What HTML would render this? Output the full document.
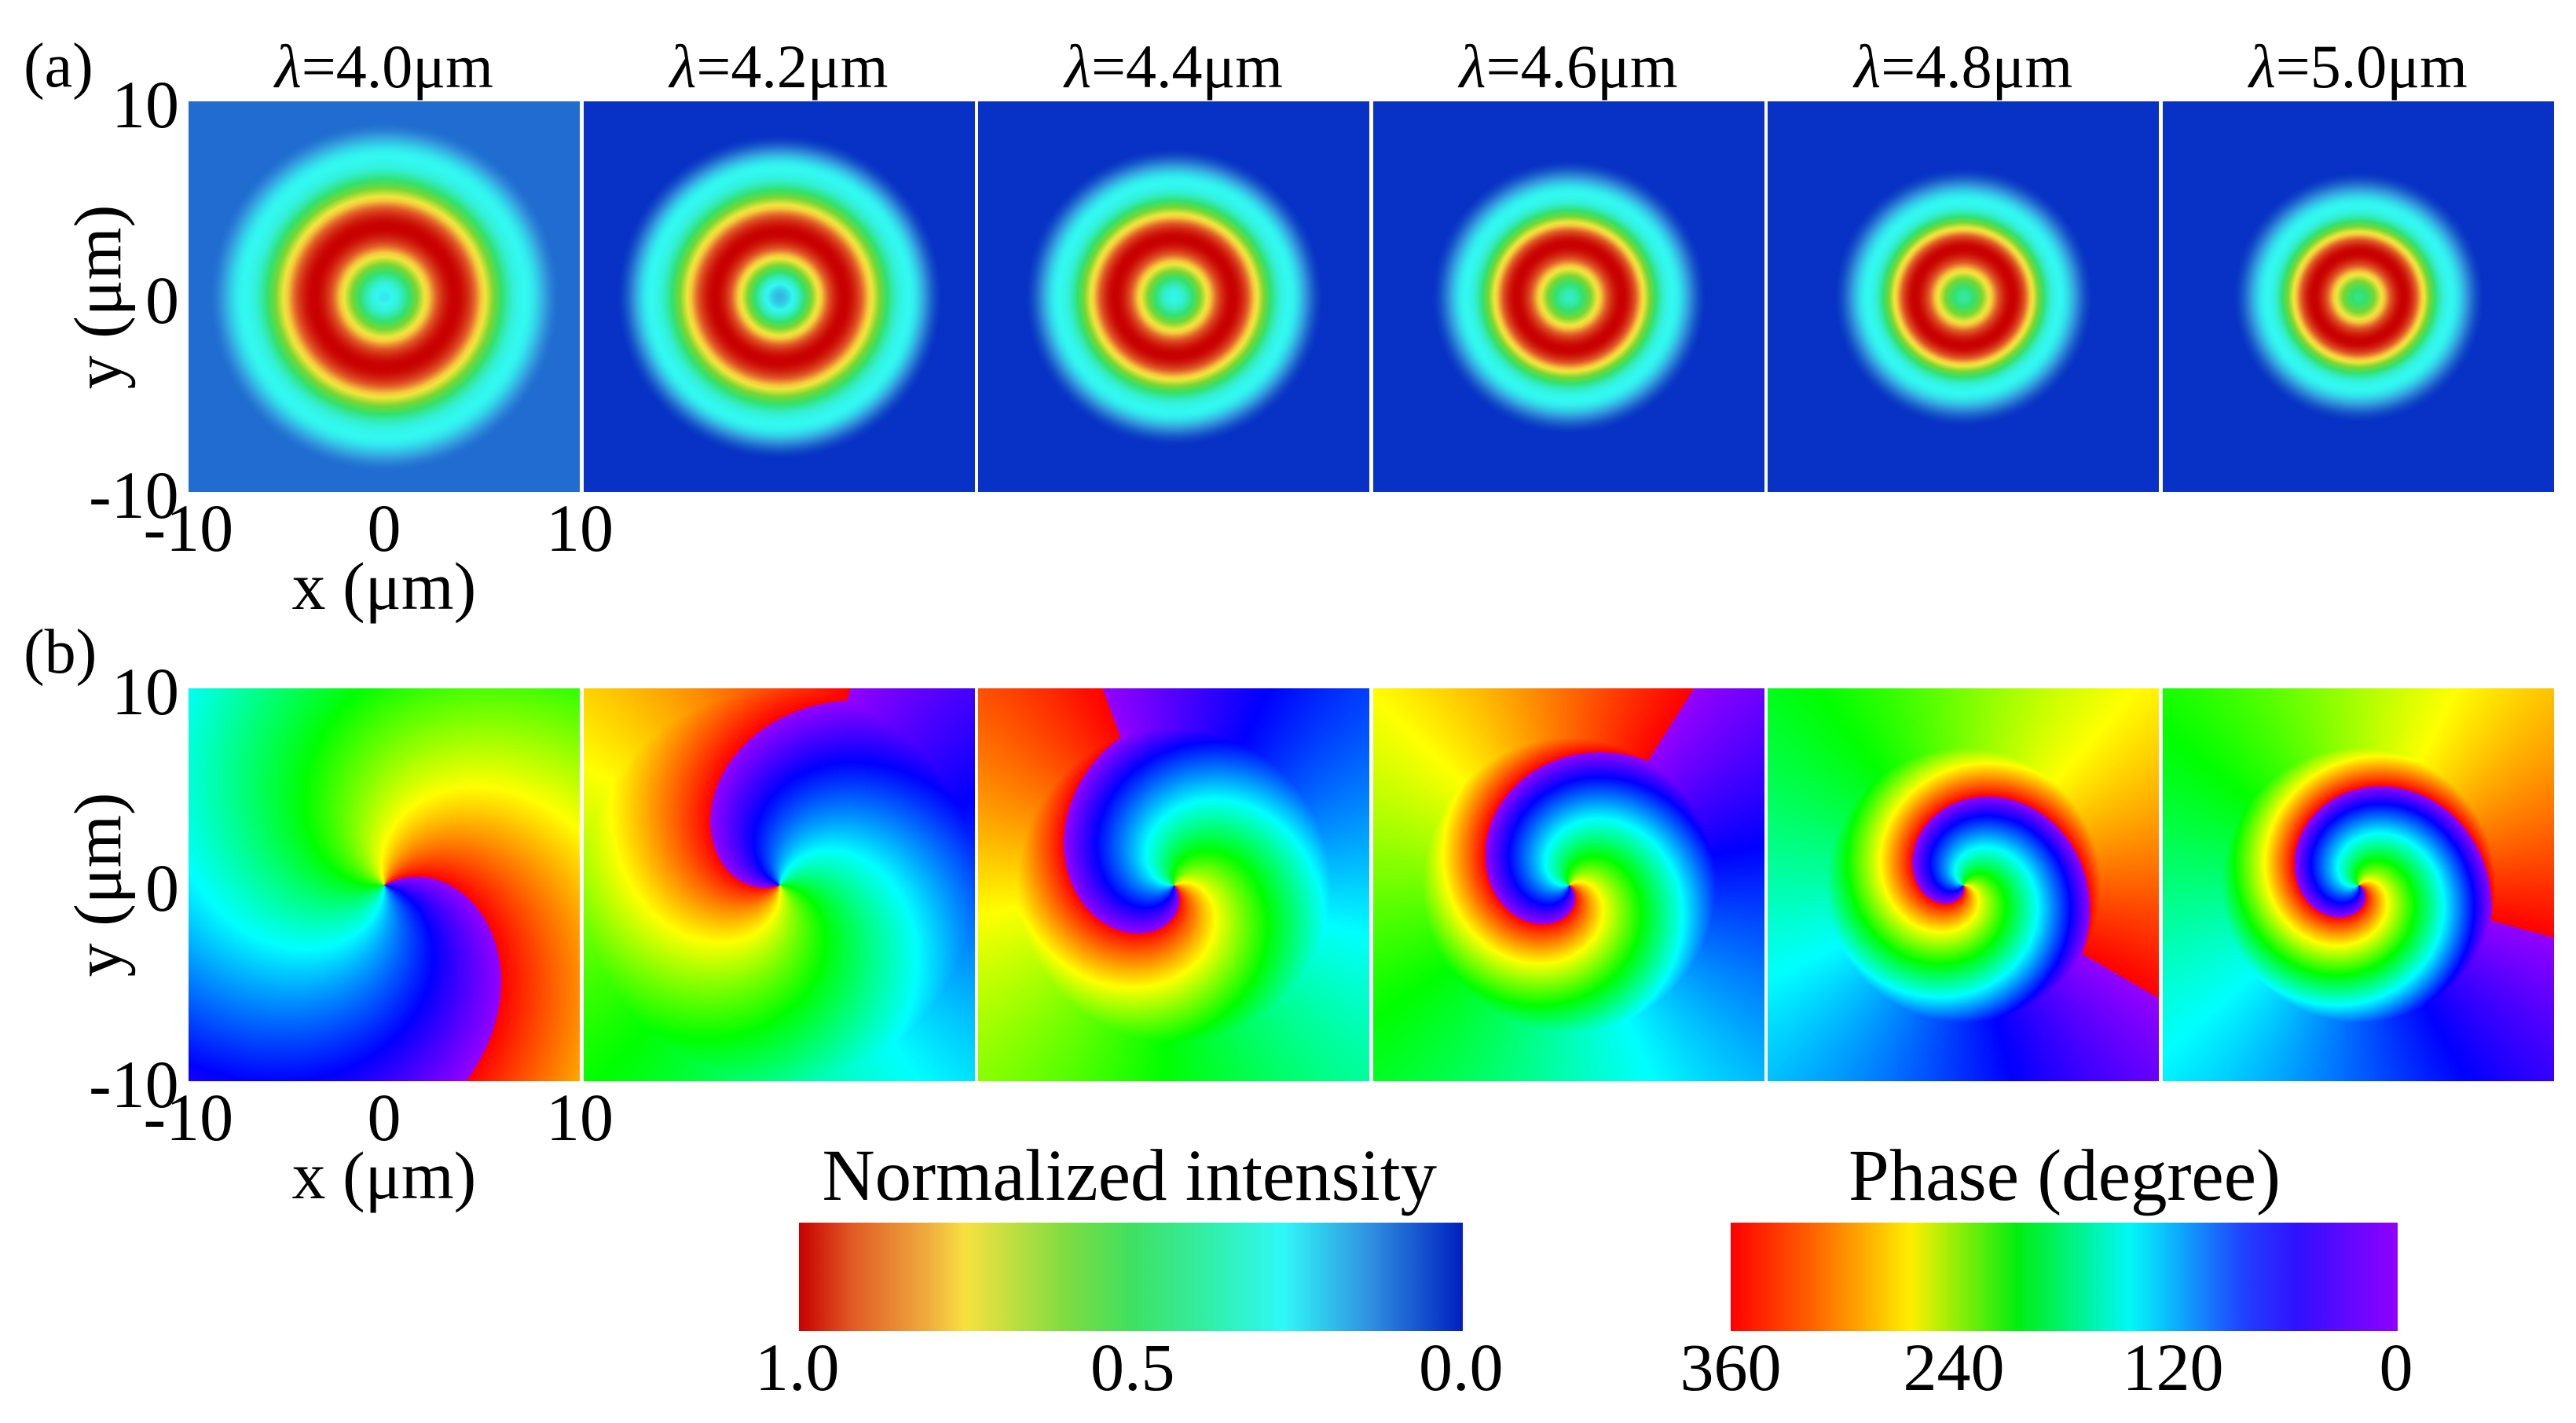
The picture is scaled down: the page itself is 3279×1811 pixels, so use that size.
<!DOCTYPE html>
<html><head><meta charset="utf-8">
<style>
html,body{margin:0;padding:0;background:#fff;}
#root{position:relative;width:3279px;height:1811px;overflow:hidden;font-family:"Liberation Serif","DejaVu Serif",serif;color:#000;}
.t{position:absolute;white-space:nowrap;line-height:1;}
canvas{position:absolute;}
</style></head>
<body>
<div id="root">
  <div class="t" style="left:30px;top:44px;font-size:80px;">(a)</div>
  <div class="t" style="left:30px;top:790px;font-size:80px;">(b)</div>
  <svg id="cb" width="3279" height="1811" style="position:absolute;left:0;top:0"></svg>
</div>
<script>
const wavelengths = ["4.0","4.2","4.4","4.6","4.8","5.0"];
// intensity profile keypoints (µm / normalized)
const ringPeak   = [3.6, 3.3, 3.0, 2.7, 2.5, 2.3];
const ringOuter  = [7.2, 6.6, 5.9, 5.3, 4.9, 4.7];
const centerVal  = [0.28,0.22,0.32,0.38,0.42,0.45];
const bgVal      = [0.12,0.03,0.03,0.03,0.03,0.03];
// phase parameters
const phaseOffset = [30, 200, 310, 320, 285, 335];
const phaseTwist  = [-9, -13, -25, -35, -45, -50];
const twistRadius = [14, 10, 8, 7.5, 7, 7];
const intensityTicks = ["1.0","0.5","0.0"];
const phaseTicks = ["360","240","120","0"];

const root = document.getElementById('root');
const X0 = 240, STEP = 502.6, PW = 498;
const ROWA = 129, ROWAH = 497, ROWB = 876, ROWBH = 500;

const iStops = [[1.0,[200,0,0]],[0.88,[225,90,40]],[0.78,[245,200,60]],[0.72,[240,230,60]],[0.6,[120,215,50]],[0.48,[50,225,110]],[0.36,[50,240,210]],[0.3,[50,248,240]],[0.18,[50,150,220]],[0.08,[20,80,200]],[0.0,[0,30,195]]];
function icol(v){v=Math.max(0,Math.min(1,v));
  for(let i=0;i<iStops.length-1;i++){const a=iStops[i],b=iStops[i+1];
    if(v<=a[0]&&v>=b[0]){const t=(a[0]-v)/(a[0]-b[0]);return a[1].map((c,k)=>c+(b[1][k]-c)*t);}}
  return iStops[iStops.length-1][1];}
function hsv(h){h=((h%360)+360)%360;const c=1,x=1-Math.abs((h/60)%2-1);let r,g,b;
  if(h<60)[r,g,b]=[c,x,0];else if(h<120)[r,g,b]=[x,c,0];else if(h<180)[r,g,b]=[0,c,x];else if(h<240)[r,g,b]=[0,x,c];else if(h<300)[r,g,b]=[x,0,c];else[r,g,b]=[c,0,x];
  return [r*255,g*255,b*255];}
function pcol(p){p=((p%360)+360)%360;return hsv((360-p)/360*275);}
function smooth(a,b,t){t=Math.max(0,Math.min(1,t));t=t*t*(3-2*t);return a+(b-a)*t;}
function intensity(i,r){
  const pk=ringPeak[i],out=ringOuter[i];
  if(r<pk)return smooth(centerVal[i],1,r/pk);
  if(r<out)return smooth(1,0.3,(r-pk)/(out-pk));
  if(r<out+1.8)return smooth(0.3,bgVal[i],(r-out)/1.8);
  return bgVal[i];}

function addText(txt,name,x,y,size,align,html){
  const d=document.createElement('div');d.className='t';
  
  
  d.style.fontSize=size+'px';d.style.top=(y-size*0.8)+'px';
  if(html)d.innerHTML=txt;else d.textContent=txt;
  root.appendChild(d);
  const w=d.offsetWidth;
  d.style.left=(align==='c'?x-w/2:align==='r'?x-w:x)+'px';
  return d;}

wavelengths.forEach((wl,i)=>{
  const left=X0+i*STEP;
  addText('<i>λ</i>=' + wl + 'μm','title-lambda-'+wl,left+PW/2,108,78,'c',true);
  const ca=document.createElement('canvas');ca.width=PW;ca.height=ROWAH;
  ca.style.left=left+'px';ca.style.top=ROWA+'px';
  
  
  root.appendChild(ca);
  let ctx=ca.getContext('2d'),im=ctx.createImageData(PW,ROWAH);
  for(let y=0;y<ROWAH;y++)for(let x=0;x<PW;x++){
    const ux=(x-PW/2)/PW*20,uy=(y-ROWAH/2)/ROWAH*20,r=Math.hypot(ux,uy);
    const c=icol(intensity(i,r)),o=(y*PW+x)*4;
    im.data[o]=c[0];im.data[o+1]=c[1];im.data[o+2]=c[2];im.data[o+3]=255;}
  ctx.putImageData(im,0,0);
  const cb=document.createElement('canvas');cb.width=PW;cb.height=ROWBH;
  cb.style.left=left+'px';cb.style.top=ROWB+'px';
  
  
  root.appendChild(cb);
  ctx=cb.getContext('2d');im=ctx.createImageData(PW,ROWBH);
  for(let y=0;y<ROWBH;y++)for(let x=0;x<PW;x++){
    const ux=(x-PW/2)/PW*20,uy=-(y-ROWBH/2)/ROWBH*20,r=Math.hypot(ux,uy);
    const th=Math.atan2(uy,ux)*180/Math.PI;
    const p=phaseOffset[i]-th+phaseTwist[i]*Math.min(r,twistRadius[i]);
    const c=pcol(p),o=(y*PW+x)*4;
    im.data[o]=c[0];im.data[o+1]=c[1];im.data[o+2]=c[2];im.data[o+3]=255;}
  ctx.putImageData(im,0,0);
});

[[ROWA,ROWAH,'a'],[ROWB,ROWBH,'b']].forEach(([top,h,k])=>{
  addText('10','y-tick-10-'+k,228,top+30,86,'r');
  addText('0','y-tick-0-'+k,228,top+h/2+30,86,'r');
  addText('-10','y-tick-neg10-'+k,228,top+h+30,86,'r');
  const by=top+h+72;
  addText('-10','x-tick-neg10-'+k,X0,by,86,'c');
  addText('0','x-tick-0-'+k,X0+PW/2,by,86,'c');
  addText('10','x-tick-10-'+k,X0+PW,by,86,'c');
  addText('x (μm)','x-axis-title-'+k,X0+PW/2,by+74,86,'c');
  const yl=addText('y (μm)','y-axis-title-'+k,0,0,86,'l');
  const w=yl.offsetWidth;
  yl.style.left=(124-w/2)+'px';yl.style.top=(top+h/2-43)+'px';
  yl.style.transform='rotate(-90deg)';
});

const svg=document.getElementById('cb');
svg.innerHTML=`<defs>
<linearGradient id="gi" x1="0" x2="1" y1="0" y2="0">
<stop offset="0" stop-color="#c80000"/><stop offset="0.08" stop-color="#e05a25"/><stop offset="0.2" stop-color="#f0b040"/><stop offset="0.25" stop-color="#f8e040"/><stop offset="0.4" stop-color="#80dc40"/><stop offset="0.5" stop-color="#40e060"/><stop offset="0.63" stop-color="#30f0b0"/><stop offset="0.73" stop-color="#30f8f8"/><stop offset="0.86" stop-color="#3090e0"/><stop offset="1" stop-color="#0020c0"/></linearGradient>
<linearGradient id="gp" x1="0" x2="1" y1="0" y2="0">
<stop offset="0" stop-color="#ff0000"/><stop offset="0.12" stop-color="#ff6000"/><stop offset="0.27" stop-color="#ffee00"/><stop offset="0.43" stop-color="#00ee10"/><stop offset="0.6" stop-color="#00f8f8"/><stop offset="0.77" stop-color="#2040ff"/><stop offset="0.85" stop-color="#3010ff"/><stop offset="1" stop-color="#9000ff"/></linearGradient></defs>
<rect x="1017" y="1556" width="845" height="138" fill="url(#gi)"/>
<rect x="2203" y="1556" width="849" height="138" fill="url(#gp)"/>`;
addText('Normalized intensity','intensity-colorbar-title',1438,1524,93,'c');
addText('Phase (degree)','phase-colorbar-title',2628,1524,93,'c');
const iPos=[1015,1442,1860],pPos=[2203,2487,2766,3050];
intensityTicks.forEach((t,j)=>addText(t,'intensity-tick-'+t,iPos[j],1766,86,'c'));
phaseTicks.forEach((t,j)=>addText(t,'phase-tick-'+t,pPos[j],1766,86,'c'));
</script>
</body></html>
